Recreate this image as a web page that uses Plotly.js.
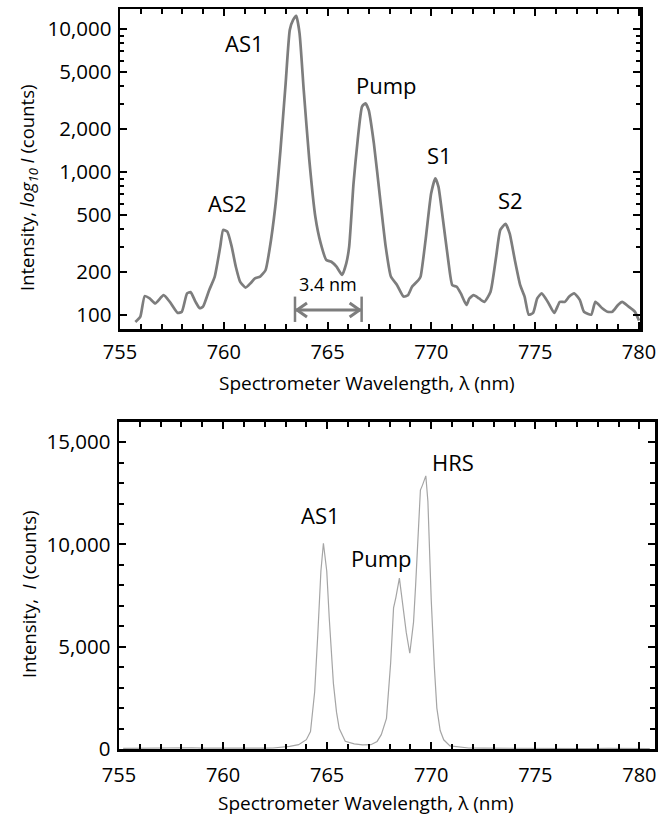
<!DOCTYPE html>
<html>
<head>
<meta charset="utf-8">
<script src="https://cdn.plot.ly/plotly-3.0.1.min.js"></script>
<style>html,body{margin:0;padding:0;background:#fff;}#chart{width:667px;height:816px;}</style>
</head>
<body>
<div id="chart"></div>
<script>
// ---- Top panel: log-scale spectrum ----
const wavelengthTop = [755.74,755.98,756.19,756.43,756.7,757.1,757.4,757.78,757.98,758.23,758.4,758.64,758.84,759.0,759.29,759.56,759.83,759.97,760.17,760.38,760.58,760.79,761.05,761.3,761.5,761.75,762.01,762.2,762.48,762.73,762.98,763.18,763.34,763.49,763.65,763.85,764.12,764.41,764.67,764.94,765.18,765.43,765.7,765.9,766.04,766.25,766.45,766.66,766.82,766.98,767.23,767.54,767.8,768.05,768.35,768.66,768.87,769.07,769.38,769.48,769.72,769.99,770.19,770.34,770.54,770.81,771.01,771.22,771.42,771.69,771.83,772.03,772.3,772.55,772.85,773.12,773.32,773.57,773.77,774.02,774.28,774.49,774.69,774.9,775.1,775.31,775.61,775.92,776.19,776.43,776.64,776.88,777.15,777.35,777.7,777.9,778.23,778.48,778.72,778.99,779.19,779.5,779.8,780.0];
const intensityTop = [89,97,135,130,120,137,123,103,105,141,144,123,111,114,148,184,300,393,382,300,217,170,155,167,180,185,205,284,571,1425,4180,9900,11620,12400,9370,3756,1213,486,316,242,235,217,190,229,300,832,1675,2870,3030,2720,1587,636,300,185,161,134,137,157,175,185,333,709,903,789,486,242,161,157,141,117,130,137,130,123,145,255,393,433,372,242,161,134,100,103,130,141,123,103,123,123,134,141,127,105,100,123,111,105,105,117,123,114,105,91];

// ---- Bottom panel: linear spectrum ----
const wavelengthBottom = [755.2,756,757,758,758.5,759,760,761,762,762.4,763.2,763.63,764.0,764.2,764.4,764.55,764.7,764.82,764.98,765.1,765.3,765.45,765.58,765.87,766.3,766.7,767.1,767.4,767.6,767.85,768.05,768.19,768.3,768.47,768.65,768.8,768.97,769.15,769.25,769.38,769.48,769.58,769.74,769.84,770.0,770.15,770.27,770.43,770.6,770.9,771.3,771.8,772.5,773.5,774.5,775.5,776.5,777.5,778.5,779.5,780.5];
const intensityBottom = [30,40,35,50,60,40,30,35,45,50,130,210,455,850,2800,5600,8700,10060,8700,6400,3210,1800,1000,380,250,200,210,370,700,1500,4200,6900,7400,8350,6900,5700,4680,6200,8000,10500,12660,12900,13350,12100,7300,4000,2000,900,450,150,90,50,40,30,35,25,30,25,30,25,25];

const xTickVals = [755,760,765,770,775,780];
const xTickText = ['755','760','765','770','775','780'];
const yTopTickVals = [100,200,500,1000,2000,5000,10000];
const yTopTickText = ['100','200','500','1,000','2,000','5,000','10,000'];
const yTopMinorVals = [300,400,600,700,800,900,3000,4000,6000,7000,8000,9000];
const yBottomTickVals = [0,5000,10000,15000];
const yBottomTickText = ['0','5,000','10,000','15,000'];

const xTitle = 'Spectrometer Wavelength, λ (nm)';
const yTopTitle = 'Intensity, <i>log</i><sub><i>10</i></sub> <i>I</i> (counts)';
const yBottomTitle = 'Intensity,  <i>I</i> (counts)';

const topLabels = ['AS1','Pump','S1','AS2','S2'];
const topLabelX = [761.02,767.86,770.41,760.17,773.8];
const topLabelY = [3.902,3.61,3.119,2.781,2.804];
const bottomLabels = ['AS1','Pump','HRS'];
const bottomLabelX = [764.7,767.63,771.06];
const bottomLabelY = [11430,9325,14050];
const spacingStart = 763.43, spacingEnd = 766.64, spacingLabel = '3.4 nm';
const spacingLevel = 108, spacingBarLow = 89, spacingBarHigh = 134;

const FONT = 'Open Sans, Lato, sans-serif';
const GREY = '#7d7d7d';

const traces = [
  {x: wavelengthTop, y: intensityTop, xaxis:'x', yaxis:'y', type:'scatter', mode:'lines',
   line:{color:GREY, width:2.7, shape:'spline', smoothing:0.5}, hoverinfo:'skip'},
  {x: wavelengthBottom, y: intensityBottom, xaxis:'x2', yaxis:'y2', type:'scatter', mode:'lines',
   line:{color:'#a5a5a5', width:1.2}, hoverinfo:'skip'}
];

function xAxis(domain, range, anchor, standoff){
  return {domain: domain, range: range, anchor: anchor,
    tickmode:'array', tickvals:xTickVals, ticktext:xTickText,
    ticks:'inside', ticklen:7, tickwidth:2, tickcolor:'#000',
    minor:{tick0:755, dtick:1, ticks:'inside', ticklen:5, tickwidth:2, tickcolor:'#000'},
    showline:true, linewidth:2.5, linecolor:'#000', mirror:'ticks',
    showgrid:false, zeroline:false, ticklabelstandoff:standoff,
    tickfont:{family:FONT, size:20, color:'#000'}};
}
function yAxisBase(){
  return {ticks:'inside', ticklen:7, tickwidth:2, tickcolor:'#000',
    showline:true, linewidth:2.5, linecolor:'#000', mirror:'ticks', showgrid:false, zeroline:false, ticklabelstandoff:2,
    tickfont:{family:FONT, size:20.5, color:'#000'}};
}

const annotations = [];
topLabels.forEach((t,i)=>annotations.push({x:topLabelX[i], y:topLabelY[i], xref:'x', yref:'y', text:t, showarrow:false, font:{family:FONT, size:22, color:'#000'}}));
bottomLabels.forEach((t,i)=>annotations.push({x:bottomLabelX[i], y:bottomLabelY[i], xref:'x2', yref:'y2', text:t, showarrow:false, font:{family:FONT, size:22, color:'#000'}}));
annotations.push({x:(spacingStart+spacingEnd)/2, y:2.213, xref:'x', yref:'y', text:spacingLabel, showarrow:false, font:{family:FONT, size:18, color:'#000'}});
const C = {xanchor:'center', yanchor:'middle', showarrow:false, xref:'paper', yref:'paper'};
annotations.push(Object.assign({x:367/667, y:1-383/816, text:xTitle, font:{family:FONT, size:19, color:'#000'}}, C));
annotations.push(Object.assign({x:366/667, y:1-803/816, text:xTitle, font:{family:FONT, size:19, color:'#000'}}, C));
annotations.push(Object.assign({x:28/667, y:1-188/816, text:yTopTitle, textangle:-90, font:{family:FONT, size:18.5, color:'#000'}}, C));
annotations.push(Object.assign({x:28/667, y:1-595/816, text:yBottomTitle, textangle:-90, font:{family:FONT, size:18.5, color:'#000'}}, C));

const arrowLine = {color:GREY, width:3};
const shapes = [
  {type:'line', xref:'x', yref:'y', x0:spacingStart, x1:spacingEnd, y0:spacingLevel, y1:spacingLevel, line:arrowLine},
  {type:'line', xref:'x', yref:'y', x0:spacingStart, x1:spacingStart, y0:spacingBarLow, y1:spacingBarHigh, line:{color:GREY, width:2.5}},
  {type:'line', xref:'x', yref:'y', x0:spacingEnd, x1:spacingEnd, y0:spacingBarLow, y1:spacingBarHigh, line:{color:GREY, width:2.5}},
  {type:'path', xref:'x', yref:'y', xsizemode:'pixel', ysizemode:'pixel', xanchor:spacingStart, yanchor:spacingLevel,
   path:'M12,7 L2,0 L12,-7', line:arrowLine},
  {type:'path', xref:'x', yref:'y', xsizemode:'pixel', ysizemode:'pixel', xanchor:spacingEnd, yanchor:spacingLevel,
   path:'M-12,7 L-2,0 L-12,-7', line:arrowLine}
];

const layout = {
  width:667, height:816, margin:{l:0,r:0,t:0,b:0}, paper_bgcolor:'#fff', plot_bgcolor:'#fff', showlegend:false,
  xaxis: xAxis([120/667, 640/667], [755, 780.05], 'y', 3),
  yaxis: Object.assign(yAxisBase(), {domain:[1-329/816, 1-9/816], type:'log', range:[1.9, 4.142], anchor:'x',
    tickmode:'array', tickvals:yTopTickVals, ticktext:yTopTickText,
    minor:{tickmode:'array', tickvals:yTopMinorVals, ticks:'inside', ticklen:4, tickwidth:2, tickcolor:'#000'}}),
  xaxis2: xAxis([119/667, 655/667], [755, 780.75], 'y2', 6),
  yaxis2: Object.assign(yAxisBase(), {domain:[1-749/816, 1-421.7/816], range:[0, 16000], anchor:'x2',
    tickmode:'array', tickvals:yBottomTickVals, ticktext:yBottomTickText,
    minor:{tick0:0, dtick:1000, ticks:'inside', ticklen:5, tickwidth:2, tickcolor:'#000'}}),
  annotations: annotations,
  shapes: shapes
};

Plotly.newPlot('chart', traces, layout, {staticPlot:true, displayModeBar:false});
</script>
</body>
</html>
